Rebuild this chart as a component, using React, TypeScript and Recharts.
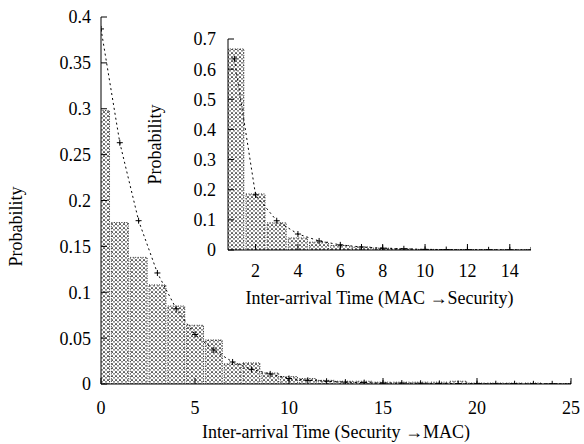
import { ComposedChart, Bar, Line, XAxis, YAxis } from "recharts";

// main histogram: Security -> MAC
const mainTimes = [0, 1, 2, 3, 4, 5, 6, 7, 8, 9, 10, 11, 12, 13, 14, 15, 16, 17, 18, 19, 20, 21, 22, 23, 24, 25];
const mainHist = [0.298, 0.176, 0.138, 0.108, 0.085, 0.064, 0.048, 0.022, 0.023, 0.012, 0.008, 0.006, 0.004, 0.003, 0.003, 0.002, 0.002, 0.002, 0.002, 0.003, 0.001, 0.001, 0.001, 0.001, 0.0005, 0.0005];
const mainFit = [0.387, 0.263, 0.178, 0.121, 0.082, 0.054, 0.037, 0.024, 0.016, 0.011, 0.006, 0.004, 0.003, 0.002, 0.0015, 0.001, 0.001, 0.0008, 0.0006, 0.0005, 0.0004, 0.0003, 0.0003, 0.0002, 0.0002, 0.0001];
const mainXTicks = [0, 5, 10, 15, 20, 25];
const mainYTicks = [0, 0.05, 0.1, 0.15, 0.2, 0.25, 0.3, 0.35, 0.4];

// inset histogram: MAC -> Security
const insetTimes = [1, 2, 3, 4, 5, 6, 7, 8, 9, 10, 11, 12, 13, 14, 15];
const insetHist = [0.667, 0.186, 0.09, 0.04, 0.026, 0.015, 0.01, 0.006, 0.004, 0.002, 0.0015, 0.001, 0.001, 0.0005, 0.0005];
const insetFit = [0.634, 0.183, 0.097, 0.053, 0.03, 0.017, 0.01, 0.006, 0.004, 0.002, 0.0015, 0.001, 0.0006, 0.0004, 0.0002];
const insetXTicks = [2, 4, 6, 8, 10, 12, 14];
const insetYTicks = [0, 0.1, 0.2, 0.3, 0.4, 0.5, 0.6, 0.7];

const mainData = mainTimes.map((t, i) => ({ t, hist: mainHist[i], fit: mainFit[i] }));
const insetData = insetTimes.map((t, i) => ({ t, hist: insetHist[i], fit: insetFit[i] }));

const FONT = "Liberation Serif, DejaVu Serif, serif";
const tickStyle = { fill: "#000", fontSize: 18, fontFamily: FONT };
const line = { stroke: "#000", strokeWidth: 1 };

const renderPlus = (props: any) => {
  const { cx, cy, index } = props;
  if (cx == null || cy == null) return <g key={`p-${index}`} />;
  return (
    <path
      key={`p-${index}`}
      d={`M${cx - 3},${cy}H${cx + 3}M${cx},${cy - 3}V${cy + 3}`}
      stroke="#000"
      strokeWidth={1}
      fill="none"
    />
  );
};

function Title({ x, y, value, rotate }: any) {
  return (
    <text
      x={x}
      y={y}
      transform={rotate ? `rotate(-90 ${x} ${y})` : undefined}
      textAnchor="middle"
      dominantBaseline={rotate ? "central" : undefined}
      fontFamily={FONT}
      fontSize={18}
      fill="#000"
    >
      {value}
    </text>
  );
}

// layout
const W = 584;
const H = 444;
const mainMargin = { top: 17, right: 13, bottom: 0, left: 0 };
const mainYW = 101;
const mainXH = 60;
const mainPlotW = W - mainMargin.right - mainYW;
const mainPlotH = H - mainMargin.top - mainXH;
const mainBar = mainPlotW / 25;

const IX = 140;
const IY = 25;
const IW = 405;
const IH = 290;
const insetMargin = { top: 14, right: 14, bottom: 0, left: 0 };
const insetYW = 88;
const insetXH = 65;
const insetDomain = [0.7, 15];
const insetPlotW = IW - insetMargin.right - insetYW;
const insetPlotH = IH - insetMargin.top - insetXH;
const insetBar = insetPlotW / (insetDomain[1] - insetDomain[0]);

export default function App() {
  return (
    <div style={{ position: "absolute", left: 0, top: 0, width: W, height: H, background: "#fff" }}>
      <svg width={0} height={0} style={{ position: "absolute" }}>
        <defs>
          <pattern id="hatch" width={4} height={4} patternUnits="userSpaceOnUse">
            <rect width={4} height={4} fill="#fff" />
            <path d="M0 0L4 4M4 0L0 4" stroke="#000" strokeWidth={0.75} strokeDasharray="1.2 0.8" />
          </pattern>
        </defs>
      </svg>

      <ComposedChart width={W} height={H} data={mainData} margin={mainMargin}>
        <XAxis
          dataKey="t"
          type="number"
          domain={[0, 25]}
          ticks={mainXTicks}
          allowDataOverflow
          height={mainXH}
          tick={tickStyle}
          tickSize={-6}
          tickMargin={23}
          axisLine={line}
          tickLine={line}
        />
        <XAxis
          xAxisId="top"
          orientation="top"
          type="number"
          domain={[0, 25]}
          ticks={mainXTicks}
          allowDataOverflow
          height={0}
          tick={false}
          tickSize={-6}
          axisLine={line}
          tickLine={line}
        />
        <YAxis
          type="number"
          domain={[0, 0.4]}
          ticks={mainYTicks}
          allowDataOverflow
          width={mainYW}
          tick={tickStyle}
          tickSize={-6}
          tickMargin={16}
          axisLine={line}
          tickLine={line}
        />
        <YAxis
          yAxisId="right"
          orientation="right"
          type="number"
          domain={[0, 0.4]}
          ticks={mainYTicks}
          width={0}
          tick={false}
          tickSize={-6}
          axisLine={line}
          tickLine={line}
        />
        <Bar
          dataKey="hist"
          barSize={mainBar}
          fill="url(#hatch)"
          stroke="#000"
          strokeWidth={0.8}
          strokeDasharray="1 1.5"
          isAnimationActive={false}
        />
        <Line
          dataKey="fit"
          type="linear"
          stroke="#000"
          strokeWidth={1}
          strokeDasharray="2 3"
          dot={renderPlus}
          activeDot={false}
          isAnimationActive={false}
        />
      </ComposedChart>

      <div style={{ position: "absolute", left: IX, top: IY }}>
        <ComposedChart width={IW} height={IH} data={insetData} margin={insetMargin}>
          <XAxis
            dataKey="t"
            type="number"
            domain={insetDomain}
            ticks={insetXTicks}
            allowDataOverflow
            height={insetXH}
            tick={tickStyle}
            tickSize={-6}
            tickMargin={20}
            axisLine={line}
            tickLine={line}
          />
          <XAxis
            xAxisId="top"
            orientation="top"
            type="number"
            domain={insetDomain}
            ticks={insetXTicks}
            allowDataOverflow
            height={0}
            tick={false}
            tickSize={-6}
            axisLine={line}
            tickLine={line}
          />
          <YAxis
            type="number"
            domain={[0, 0.7]}
            ticks={insetYTicks}
            allowDataOverflow
            width={insetYW}
            tick={tickStyle}
            tickSize={-6}
            tickMargin={18}
            axisLine={line}
            tickLine={line}
          />
          <YAxis
            yAxisId="right"
            orientation="right"
            type="number"
            domain={[0, 0.7]}
            ticks={insetYTicks}
            width={0}
            tick={false}
            tickSize={-6}
            axisLine={line}
            tickLine={line}
          />
          <Bar
            dataKey="hist"
            barSize={insetBar}
            fill="url(#hatch)"
            stroke="#000"
            strokeWidth={0.8}
            strokeDasharray="1 1.5"
            isAnimationActive={false}
          />
          <Line
            dataKey="fit"
            type="linear"
            stroke="#000"
            strokeWidth={1}
            strokeDasharray="2 3"
            dot={renderPlus}
            activeDot={false}
            isAnimationActive={false}
          />
        </ComposedChart>
      </div>

      {/* axis titles */}
      <svg width={W} height={H} style={{ position: "absolute", left: 0, top: 0, pointerEvents: "none" }}>
        <Title x={mainYW + mainPlotW / 2} y={mainMargin.top + mainPlotH + 54} value="Inter-arrival Time (Security →MAC)" />
        <Title x={16} y={mainMargin.top + mainPlotH / 2 + 26} value="Probability" rotate />
        <Title
          x={IX + insetYW + insetPlotW / 2}
          y={IY + insetMargin.top + insetPlotH + 54}
          value="Inter-arrival Time (MAC →Security)"
        />
        <Title x={IX + 15} y={IY + insetMargin.top + insetPlotH / 2} value="Probability" rotate />
      </svg>
    </div>
  );
}
